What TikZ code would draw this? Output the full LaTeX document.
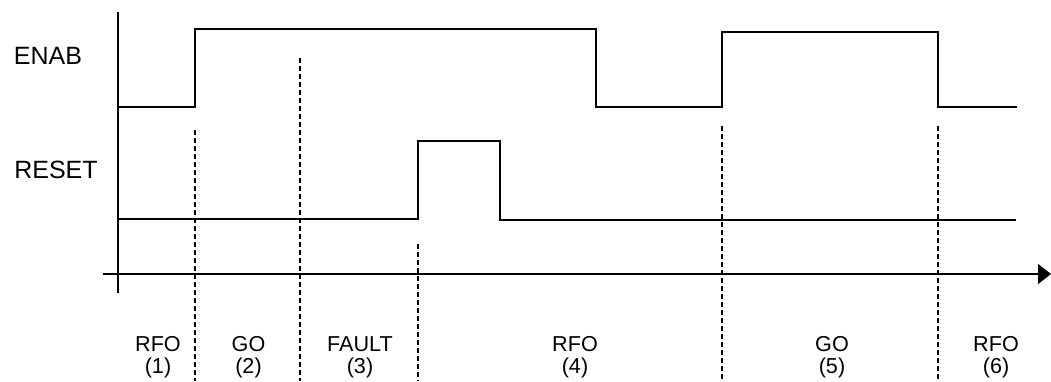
\documentclass[tikz,border=0pt]{standalone}
\usepackage{fontspec}
\setmainfont{Liberation Sans}
\usetikzlibrary{arrows.meta}
\tikzset{
  signal/.style={line width=0.6pt},
  marker/.style={line width=0.6pt, dash pattern=on 2.5pt off 1.5pt},
  siglabel/.style={inner sep=0pt, font=\fontsize{12.5}{13}\selectfont},
  statelabel/.style={inner sep=0pt, align=center, font=\fontsize{10.8}{11.2}\selectfont}
}
\begin{document}
\begin{tikzpicture}[x=0.5pt, y=-0.5pt]
\useasboundingbox (0,0) rectangle (1051,381);

% axes
\draw[signal] (118,12) -- (118,293);
\draw[signal, -{Triangle[length=6.5pt,width=10pt]}] (103,274) -- (1051,274);

% ENAB
\draw[signal] (118,107) -- (195,107) -- (195,29) -- (596,29) -- (596,107)
  -- (722,107) -- (722,32) -- (938,32) -- (938,107) -- (1017,107);

% RESET
\draw[signal] (118,219) -- (418,219) -- (418,141) -- (500,141) -- (500,220)
  -- (1016,220);

% state boundaries
\draw[marker] (195,130) -- (195,381);
\draw[marker] (300,58) -- (300,381);
\draw[marker] (418,244) -- (418,381);
\draw[marker] (722,126) -- (722,381);
\draw[marker] (938,126) -- (938,381);

\node[siglabel] (enab) at (48,55.5) {ENAB};
\node[siglabel] (reset) at (56,170) {RESET};

\node[statelabel] (rfoA) at (158,357) {RFO\\(1)};
\node[statelabel] (goA) at (248.5,357) {GO\\(2)};
\node[statelabel] (fault) at (360,357) {FAULT\\(3)};
\node[statelabel] (rfoB) at (575,357) {RFO\\(4)};
\node[statelabel] (goB) at (832,357) {GO\\(5)};
\node[statelabel] (rfoC) at (996,357) {RFO\\(6)};
\end{tikzpicture}
\end{document}
